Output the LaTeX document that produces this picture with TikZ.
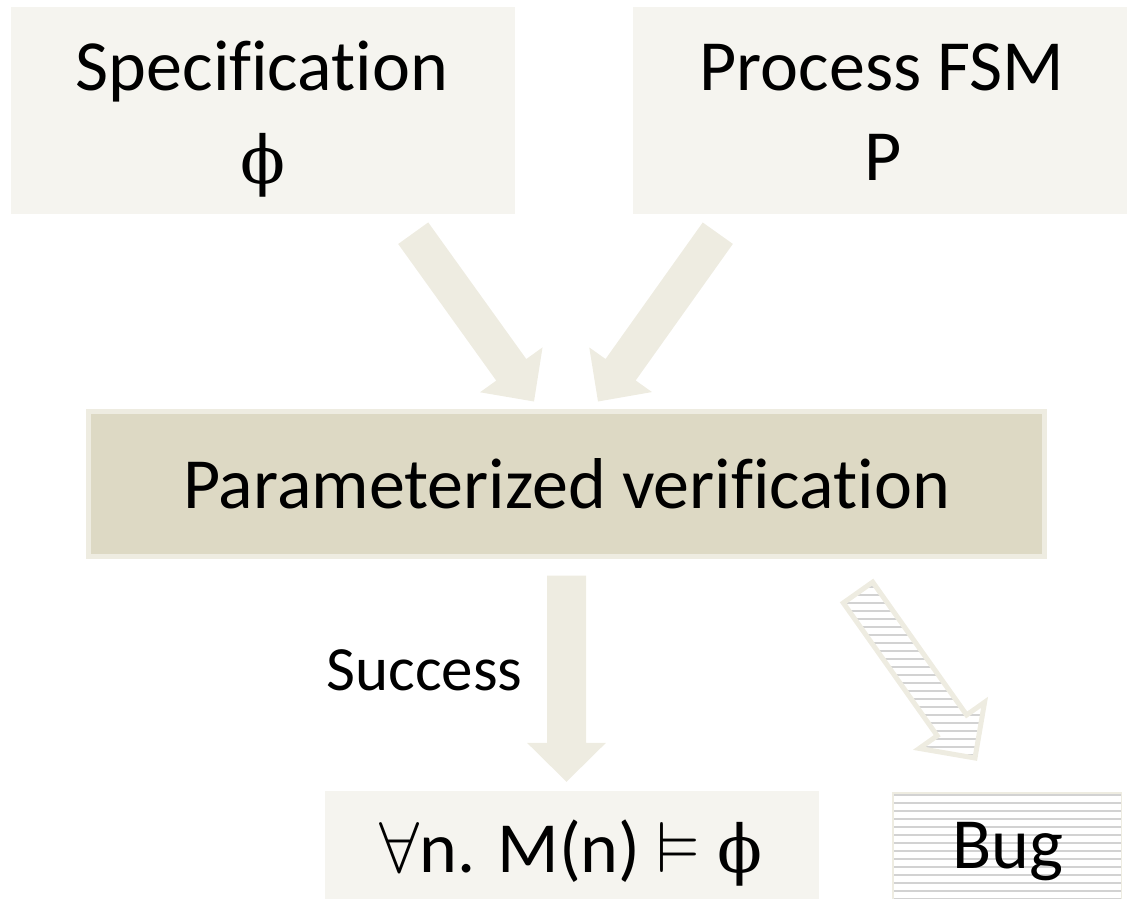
\RequirePackage{fix-cm}
\documentclass[tikz,border=0pt]{standalone}
\usepackage{amssymb}
\usepackage{fontspec}
\setmainfont{Carlito}[Ligatures=NoCommon]
\newfontfamily\phifont{DejaVu Serif}
\usetikzlibrary{calc,patterns}

\definecolor{boxfill}{HTML}{F5F4EF}
\definecolor{arrowfill}{HTML}{EEECE1}
\definecolor{midfill}{HTML}{DDD9C4}
\definecolor{hatchgray}{HTML}{D2D2D2}

% upright phi
\newcommand{\uphi}{{\phifont\fontsize{66}{90}\selectfont ϕ}}

% thin horizontal hatching, 8pt apart
\pgfdeclarepatternformonly{hlines}{\pgfqpoint{0pt}{-1pt}}{\pgfqpoint{10pt}{1pt}}{\pgfqpoint{10pt}{8pt}}{%
  \pgfsetlinewidth{1.3pt}%
  \pgfpathmoveto{\pgfqpoint{0pt}{0pt}}%
  \pgfpathlineto{\pgfqpoint{10pt}{0pt}}%
  \pgfusepath{stroke}}

% block arrow: [style]{tail}{tip}{shaft half width}{head half width}{head length}
\newcommand{\blockarrow}[6][]{%
  \path[#1] ($(#2)!#4!90:(#3)$)
    -- ($(#3)!#6!(#2)!#4!-90:(#2)$)
    -- ($(#3)!#6!(#2)!#5!-90:(#2)$)
    -- (#3)
    -- ($(#3)!#6!(#2)!#5!90:(#2)$)
    -- ($(#3)!#6!(#2)!#4!90:(#2)$)
    -- ($(#2)!#4!-90:(#3)$) -- cycle;}

\begin{document}
\begin{tikzpicture}[x=1pt, y=-1pt,
    box/.style={fill=boxfill, inner sep=0pt},
    txt/.style={font=\fontsize{72}{90}\selectfont, inner sep=0pt, anchor=base}]

    % Page size
    \useasboundingbox (0,0) rectangle (1127,899);

    % Input boxes
    \node[box, minimum width=504pt, minimum height=207pt] (spec) at (263,110.5) {};
    \node[box, minimum width=494pt, minimum height=207pt] (fsm) at (880,110.5) {};

    % Verification box
    \node[draw=arrowfill, line width=5pt, fill=midfill, inner sep=0pt,
          minimum width=956pt, minimum height=145pt,
          font=\fontsize{72}{90}\selectfont] (verif) at (566.5,484) {Parameterized verification};

    % Result boxes
    \node[box, minimum width=494pt, minimum height=120pt] (result) at (572,851) {};
    \node[draw=arrowfill, line width=1.5pt, pattern=hlines, pattern color=hatchgray,
          inner sep=0pt, minimum width=228.5pt, minimum height=118pt] (bug) at (1007,851.75) {};

    % Box texts
    \node[txt] (specname) at (262,90) {Specification};
    \node[txt] (specphi) at (263,183) {\uphi};
    \node[txt] (fsmname) at (882,90) {Process FSM};
    \node[txt] (fsmp) at (883,180) {P};
    \node[txt] (resulttext) at (571,872) {$\forall$n. M(n) $\vDash$ \uphi};
    \node[txt] (bugtext) at (1008,868) {Bug};
    \node[txt, font=\fontsize{63}{75}\selectfont] (success) at (424.5,690) {Success};

    % Arrow end points
    \coordinate (specout) at ($(spec.south east)+(-102,19)$);
    \coordinate (fsmout) at ($(fsm.south west)+(85,19)$);
    \coordinate (verifinl) at ($(verif.north)+(-32.5,-7.5)$);
    \coordinate (verifinr) at ($(verif.north)+(31.5,-7.5)$);
    \coordinate (verifout) at ($(verif.south)+(0,16.5)$);
    \coordinate (verifbug) at ($(verif.south east)+(-189,33.5)$);
    \coordinate (resultin) at ($(result.north)+(-5.5,-9)$);
    \coordinate (bugin) at ($(bug.north)+(-32,-34)$);

    % Block arrows
    \blockarrow[fill=arrowfill]{specout}{verifinl}{18.5pt}{38.5pt}{39pt}
    \blockarrow[fill=arrowfill]{fsmout}{verifinr}{18.5pt}{38.5pt}{39pt}
    \blockarrow[fill=arrowfill]{verifout}{resultin}{19.5pt}{39.5pt}{39pt}
    \blockarrow[draw=arrowfill, line width=5pt, pattern=hlines, pattern color=hatchgray]{verifbug}{bugin}{18pt}{40pt}{40pt}

\end{tikzpicture}
\end{document}
